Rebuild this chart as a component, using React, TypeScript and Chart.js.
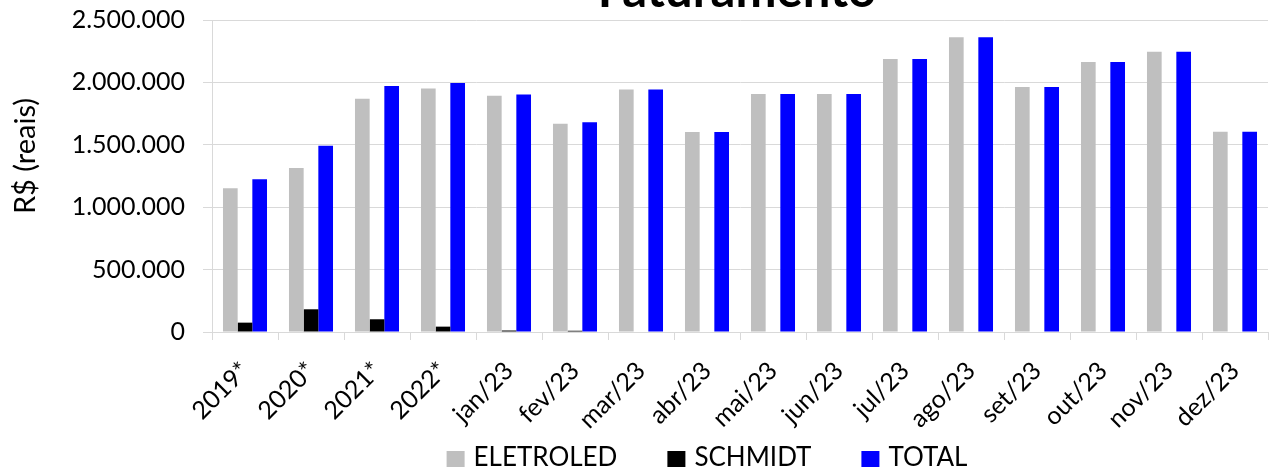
import React, { useEffect, useRef } from 'react';
import { Chart, registerables } from 'chart.js';

Chart.register(...registerables);

const FONT = 'Lato';
const TITLE = 'Faturamento';
const Y_TITLE = 'R$ (reais)';

const categories = ['2019*', '2020*', '2021*', '2022*', 'jan/23', 'fev/23', 'mar/23', 'abr/23', 'mai/23', 'jun/23', 'jul/23', 'ago/23', 'set/23', 'out/23', 'nov/23', 'dez/23'];
const eletroled = [1151000, 1314000, 1869000, 1952000, 1893000, 1669000, 1944000, 1602000, 1907000, 1907000, 2188000, 2361000, 1963000, 2163000, 2246000, 1605000];
const schmidt = [75000, 182000, 102000, 43000, 12000, 10000, 0, 0, 0, 0, 0, 0, 0, 0, 0, 0];
const total = [1223000, 1493000, 1971000, 1995000, 1904000, 1680000, 1944000, 1602000, 1907000, 1907000, 2188000, 2361000, 1963000, 2163000, 2246000, 1605000];

const Y_MIN = 0;
const Y_MAX = 2500000;
const Y_STEP = 500000;

const fmt = (v: number) => String(v).replace(/\B(?=(\d{3})+(?!\d))/g, '.');

const AXIS_LEFT = 212;
const X_AXIS_HEIGHT = 141;

const titlePlugin = {
  id: 'customTitles',
  afterDraw(chart: any) {
    const { ctx, chartArea } = chart;
    const midX = (chartArea.left + chartArea.right) / 2;
    ctx.save();
    ctx.fillStyle = '#000';
    ctx.font = `bold 49px ${FONT}`;
    ctx.textAlign = 'center';
    ctx.textBaseline = 'alphabetic';
    ctx.fillText(TITLE, midX - 3, 7);

    // legend
    ctx.font = `26px ${FONT}`;
    ctx.textAlign = 'left';
    const boxW = 18, boxH = 16, gapText = 9, gapItem = 50;
    const items = chart.data.datasets.map((d: any) => ({ text: d.label, color: d.backgroundColor, w: ctx.measureText(d.label).width }));
    const totalW = items.reduce((s: number, it: any) => s + boxW + gapText + it.w, 0) + gapItem * (items.length - 1);
    let x = midX - 33 - totalW / 2;
    const boxTop = chartArea.bottom + 119;
    for (const it of items) {
      ctx.fillStyle = it.color;
      ctx.fillRect(x, boxTop, boxW, boxH);
      ctx.fillStyle = '#000';
      ctx.fillText(it.text, x + boxW + gapText, boxTop + 15);
      x += boxW + gapText + it.w + gapItem;
    }

    ctx.translate(26, (chartArea.top + chartArea.bottom) / 2 - 20);
    ctx.rotate(-Math.PI / 2);
    ctx.font = `29px ${FONT}`;
    ctx.textAlign = 'center';
    ctx.textBaseline = 'middle';
    ctx.fillText(Y_TITLE, 0, 0);
    ctx.restore();
  },
};

export default function App() {
  const ref = useRef<HTMLCanvasElement>(null);
  useEffect(() => {
    const chart = new Chart(ref.current!, {
      type: 'bar',
      data: {
        labels: categories,
        datasets: [
          { label: 'ELETROLED', data: eletroled, backgroundColor: '#bfbfbf' },
          { label: 'SCHMIDT', data: schmidt, backgroundColor: '#000000' },
          { label: 'TOTAL', data: total, backgroundColor: '#0000ff' },
        ],
      },
      options: {
        animation: false,
        responsive: true,
        maintainAspectRatio: false,
        datasets: { bar: { categoryPercentage: 0.667, barPercentage: 1.0 } },
        layout: { padding: { top: 20, right: 4, left: 0, bottom: 0 } },
        plugins: {
          title: { display: false },
          tooltip: { enabled: false },
          legend: { display: false },
        },
        scales: {
          x: {
            afterFit: (scale: any) => {
              scale.height = X_AXIS_HEIGHT;
              scale.paddingLeft = 0;
              scale.paddingRight = 0;
            },
            grid: { display: true, drawOnChartArea: false, drawTicks: true, tickLength: 8, color: '#d9d9d9' },
            border: { display: true, color: '#d9d9d9' },
            ticks: { autoSkip: false, maxRotation: 45, minRotation: 45, color: '#000', font: { family: FONT, size: 25 }, padding: 16 },
          },
          y: {
            min: Y_MIN,
            max: Y_MAX,
            afterFit: (scale: any) => {
              scale.width = AXIS_LEFT;
              scale.paddingTop = 0;
              scale.paddingBottom = 0;
            },
            grid: { color: '#d9d9d9', tickLength: 9, drawTicks: true },
            border: { display: true, color: '#d9d9d9' },
            ticks: { stepSize: Y_STEP, color: '#000', padding: 18, font: { family: FONT, size: 25 }, callback: (v: any) => fmt(Number(v)) },
          },
        },
      },
      plugins: [titlePlugin],
    });
    return () => chart.destroy();
  }, []);
  return (
    <div style={{ position: 'absolute', left: 0, top: 0, width: 1272, height: 473, background: '#fff' }}>
      <canvas ref={ref} />
    </div>
  );
}
